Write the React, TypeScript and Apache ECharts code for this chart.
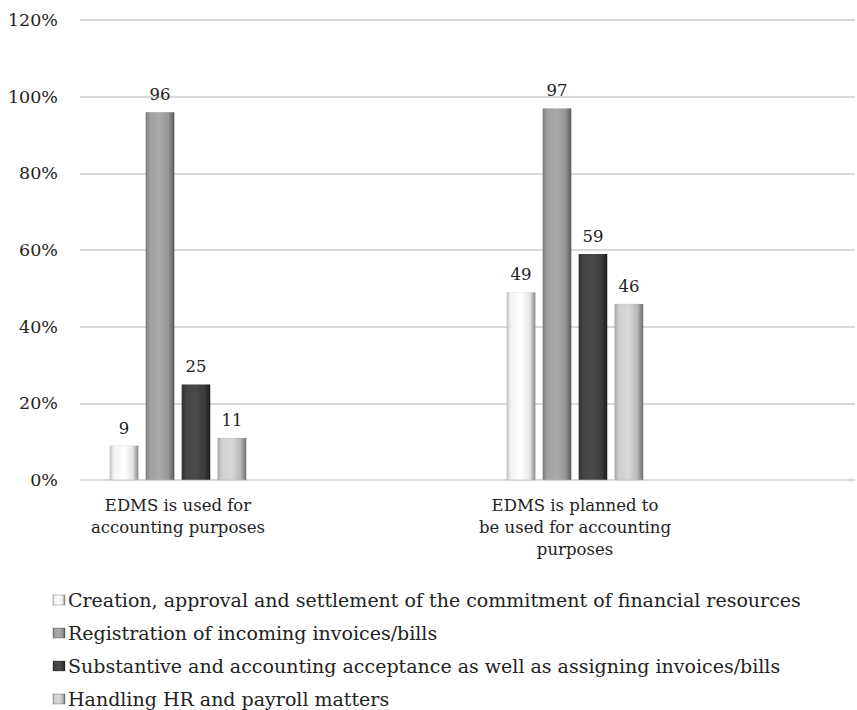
import React, { useEffect, useRef } from "react";
import * as echarts from "echarts";

const categories = [
  "EDMS is used for\naccounting purposes",
  "EDMS is planned to\nbe used for accounting\npurposes",
];
const seriesNames = [
  "Creation, approval and settlement of the commitment of financial resources",
  "Registration of incoming invoices/bills",
  "Substantive and accounting acceptance as well as assigning invoices/bills",
  "Handling HR and payroll matters",
];
const creationValues = [9, 49];
const registrationValues = [96, 97];
const acceptanceValues = [25, 59];
const hrValues = [11, 46];
const yTicks = [0, 20, 40, 60, 80, 100, 120];

const FONT = "DejaVu Serif";

const grad = (stops: [number, string][]) =>
  new echarts.graphic.LinearGradient(
    0,
    0,
    1,
    0,
    stops.map(([offset, color]) => ({ offset, color }))
  );

const barColors = [
  grad([
    [0, "#c4c4c4"],
    [0.15, "#f4f4f4"],
    [0.5, "#ffffff"],
    [0.8, "#e6e6e6"],
    [1, "#8a8a8a"],
  ]),
  grad([
    [0, "#7a7a7a"],
    [0.15, "#a0a0a0"],
    [0.5, "#aaaaaa"],
    [0.8, "#959595"],
    [1, "#5a5a5a"],
  ]),
  grad([
    [0, "#2e2e2e"],
    [0.15, "#444444"],
    [0.5, "#4a4a4a"],
    [0.8, "#3c3c3c"],
    [1, "#1e1e1e"],
  ]),
  grad([
    [0, "#a8a8a8"],
    [0.15, "#d0d0d0"],
    [0.5, "#d8d8d8"],
    [0.8, "#b8b8b8"],
    [1, "#6e6e6e"],
  ]),
];

export default function App() {
  const ref = useRef<HTMLDivElement>(null);
  useEffect(() => {
    if (!ref.current) return;
    const chart = echarts.init(ref.current, undefined, { renderer: "svg" });
    const values = [creationValues, registrationValues, acceptanceValues, hrValues];
    chart.setOption({
      animation: false,
      backgroundColor: "#ffffff",
      textStyle: { fontFamily: FONT },
      grid: [
        { left: 80, right: 2, top: 20, bottom: 230 },
        { left: 178, right: 282, top: 20, bottom: 230 },
      ],
      xAxis: [
        {
          type: "category",
          gridIndex: 0,
          data: categories,
          show: false,
        },
        {
          type: "category",
          gridIndex: 1,
          data: categories,
          boundaryGap: false,
          axisLine: { show: false },
          axisTick: { show: false },
          axisLabel: {
            margin: 14,
            fontFamily: FONT,
            fontSize: 16.5,
            color: "#222222",
            lineHeight: 22,
            align: "center",
          },
        },
      ],
      yAxis: [
        {
          type: "value",
          gridIndex: 0,
          min: yTicks[0],
          max: yTicks[yTicks.length - 1],
          interval: 20,
          axisLine: { show: false },
          axisTick: { show: false },
          axisLabel: {
            formatter: "{value}%",
            margin: 22,
            fontFamily: FONT,
            fontSize: 17.5,
            color: "#222222",
          },
          splitLine: { lineStyle: { color: "#d9d9d9", width: 2 } },
        },
        {
          type: "value",
          gridIndex: 1,
          min: yTicks[0],
          max: yTicks[yTicks.length - 1],
          interval: 20,
          show: false,
          splitLine: { show: false },
        },
      ],
      legend: {
        orient: "vertical",
        left: 52,
        top: 590,
        height: 150,
        padding: 0,
        itemWidth: 12,
        itemHeight: 10,
        itemGap: 13,
        icon: "rect",
        data: seriesNames,
        textStyle: {
          fontFamily: FONT,
          fontSize: 19,
          lineHeight: 20,
          color: "#222222",
          padding: [0, 0, 0, -2],
        },
      },
      series: seriesNames.map((name, i) => ({
        name,
        type: "bar",
        xAxisIndex: 1,
        yAxisIndex: 1,
        data: values[i],
        barWidth: 29,
        barGap: "24%",
        itemStyle: {
          color: barColors[i],
          borderColor: "rgba(0,0,0,0.12)",
          borderWidth: 0.5,
        },
        label: {
          show: true,
          position: "top",
          distance: 9,
          fontFamily: FONT,
          fontSize: 16.5,
          color: "#222222",
        },
      })),
    });
    return () => chart.dispose();
  }, []);
  return (
    <div
      ref={ref}
      style={{ position: "fixed", left: 0, top: 0, width: 857, height: 710 }}
    />
  );
}
